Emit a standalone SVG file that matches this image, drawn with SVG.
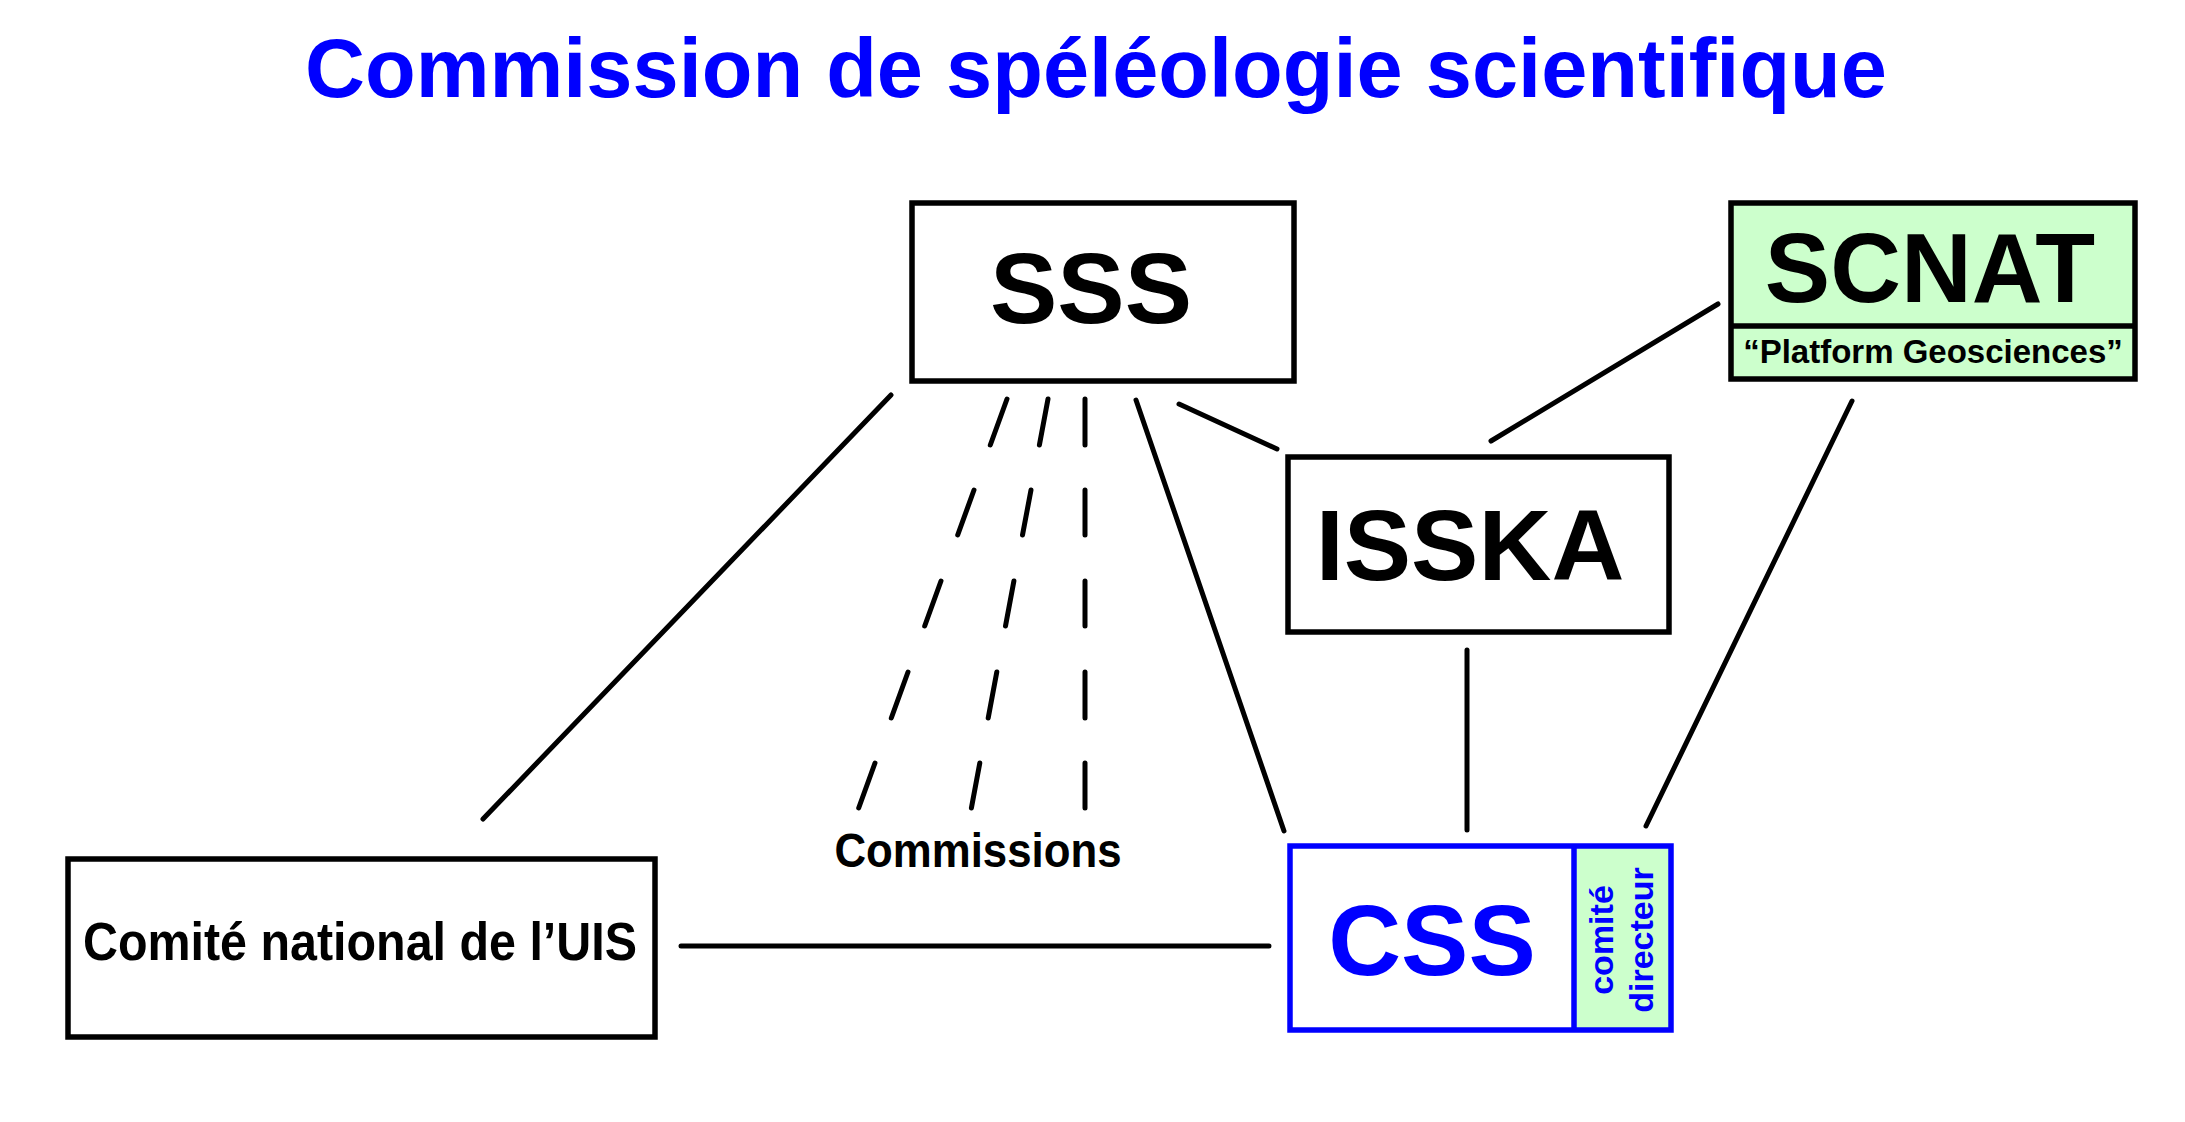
<svg xmlns="http://www.w3.org/2000/svg" width="2185" height="1122" viewBox="0 0 2185 1122">
<style>
  text { font-family: "Liberation Sans", Arial, sans-serif; font-weight: bold; }
  .box { fill: #ffffff; stroke: #000000; stroke-width: 5.5; }
  .green { fill: #ccffcc; }
  .blue { fill: #0000ff; }
  .conn line { stroke: #000000; stroke-width: 5; stroke-linecap: round; }
  .big { font-size: 101px; text-anchor: middle; fill: #000000; }
</style>
<rect width="2185" height="1122" fill="#ffffff"/>
<text id="title" x="1096" y="97" font-size="83" text-anchor="middle" class="blue">Commission de spéléologie scientifique</text>

<g id="connectors" class="conn">
  <line x1="891" y1="395" x2="483" y2="819"/>
  <line x1="1136" y1="400" x2="1284" y2="831"/>
  <line x1="1179" y1="404" x2="1277" y2="449"/>
  <line x1="1718" y1="304" x2="1491" y2="441"/>
  <line x1="1467" y1="650" x2="1467" y2="830"/>
  <line x1="1852" y1="401" x2="1646" y2="826"/>
  <line x1="681" y1="946" x2="1269" y2="946"/>
  <g id="commissions-dashes">
    <line x1="1007" y1="399" x2="990.3" y2="445"/>
    <line x1="974" y1="490" x2="957.7" y2="535"/>
    <line x1="941" y1="581" x2="924.7" y2="626"/>
    <line x1="908" y1="672" x2="891.3" y2="718"/>
    <line x1="875" y1="763" x2="858.7" y2="808"/>
    <line x1="1048" y1="399" x2="1039.4" y2="445"/>
    <line x1="1031" y1="490" x2="1022.5" y2="535"/>
    <line x1="1013.9" y1="581" x2="1005.5" y2="626"/>
    <line x1="996.8" y1="672" x2="988.2" y2="718"/>
    <line x1="979.8" y1="763" x2="971.4" y2="808"/>
    <line x1="1085" y1="399" x2="1085" y2="445"/>
    <line x1="1085" y1="490" x2="1085" y2="535"/>
    <line x1="1085" y1="581" x2="1085" y2="626"/>
    <line x1="1085" y1="672" x2="1085" y2="718"/>
    <line x1="1085" y1="763" x2="1085" y2="808"/>
  </g>
</g>

<g id="node-sss">
  <rect class="box" x="912" y="203" width="382" height="178"/>
  <text class="big" x="1091" y="323">SSS</text>
</g>

<g id="node-scnat">
  <rect class="box green" x="1731" y="203" width="404" height="176"/>
  <line x1="1731" y1="326" x2="2135" y2="326" stroke="#000000" stroke-width="5.5"/>
  <text x="1930" y="302" font-size="98" text-anchor="middle">SCNAT</text>
  <text x="1933" y="363" font-size="33" text-anchor="middle">“Platform Geosciences”</text>
</g>

<g id="node-isska">
  <rect class="box" x="1288" y="457" width="381" height="175"/>
  <text class="big" x="1470" y="580">ISSKA</text>
</g>

<g id="node-css">
  <rect x="1574" y="846" width="97" height="184" class="green"/>
  <rect x="1290" y="846" width="381" height="184" fill="none" stroke="#0000ff" stroke-width="5.5"/>
  <line x1="1574" y1="846" x2="1574" y2="1030" stroke="#0000ff" stroke-width="5.5"/>
  <text class="blue" x="1432" y="975" font-size="101" text-anchor="middle">CSS</text>
  <text class="blue" font-size="34" text-anchor="middle" transform="translate(1613,940) rotate(-90)">comité</text>
  <text class="blue" font-size="34" text-anchor="middle" transform="translate(1653,940) rotate(-90)">directeur</text>
</g>

<g id="node-comite">
  <rect class="box" x="68" y="859" width="587" height="178"/>
  <text x="360" y="960" font-size="54" text-anchor="middle" textLength="554" lengthAdjust="spacingAndGlyphs">Comité national de l’UIS</text>
</g>

<g id="label-commissions">
  <text x="978" y="867" font-size="48" text-anchor="middle" textLength="287" lengthAdjust="spacingAndGlyphs">Commissions</text>
</g>
</svg>
